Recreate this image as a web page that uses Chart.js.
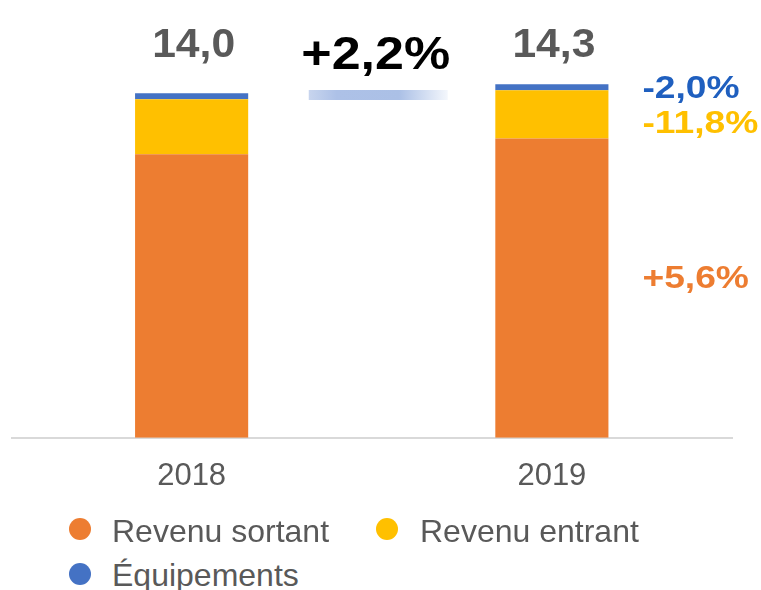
<!DOCTYPE html>
<html>
<head>
<meta charset="utf-8">
<script src="https://cdn.jsdelivr.net/npm/chart.js@4.4.0/dist/chart.umd.min.js"></script>
<style>
    body { margin: 0; background: #fff; font-family: "Liberation Sans", Arial, sans-serif; }
    #wrap { position: relative; width: 761px; height: 590px; overflow: hidden; }
    #box { position: absolute; left: 0; top: 0; width: 761px; height: 520px; }
    .dot { position: absolute; width: 22px; height: 22px; border-radius: 50%; }
    .lab { position: absolute; font-size: 32px; line-height: 32px; color: #595959; white-space: nowrap; }
</style>
</head>
<body>
<div id="wrap">
    <div id="box"><canvas id="chart"></canvas></div>
    <div id="legend"></div>
</div>
<script>
const years = ["2018", "2019"];
const revenuSortant = [11.52, 12.16];
const revenuEntrant = [2.24, 1.96];
const equipements = [0.24, 0.24];
const totals = ["14,0", "14,3"];
const growth = "+2,2%";
// evolution 2018 -> 2019, same order as the series
const changes = ["+5,6%", "-11,8%", "-2,0%"];
const seriesNames = ["Revenu sortant", "Revenu entrant", "Équipements"];
const colors = ["#ED7D31", "#FFC000", "#4472C4"];
const changeColors = ["#ED7D31", "#FFC000", "#1F5FBF"];

const FONT = '"Liberation Sans", Arial, sans-serif';

function boldText(ctx, s, x, y, size, color, sx, align) {
    ctx.save();
    ctx.font = `bold ${size}px ${FONT}`;
    ctx.fillStyle = color;
    ctx.textAlign = align;
    ctx.textBaseline = "alphabetic";
    ctx.translate(x, y);
    ctx.scale(sx, 1);
    ctx.fillText(s, 0, 0);
    ctx.restore();
}

const labelsPlugin = {
    id: "labels",
    afterDatasetsDraw(chart) {
        const ctx = chart.ctx;
        const area = chart.chartArea;
        const first = chart.getDatasetMeta(0).data;

        // totals above the bars
        first.forEach((bar, i) => {
            boldText(ctx, totals[i], bar.x + 2, area.top + 13, 41, "#595959", 1.04, "center");
        });

        // overall growth between the bars
        const mid = (first[0].x + first[1].x) / 2;
        boldText(ctx, growth, mid + 4, area.top + 25, 46, "#000000", 1.13, "center");
        const gx0 = mid - 63, gx1 = mid + 76;
        const grad = ctx.createLinearGradient(gx0, 0, gx1, 0);
        grad.addColorStop(0, "#c8d5ee");
        grad.addColorStop(0.2, "#adc1e7");
        grad.addColorStop(0.65, "#abc0e6");
        grad.addColorStop(1, "#f4f7fc");
        ctx.fillStyle = grad;
        ctx.fillRect(gx0, area.top + 46, gx1 - gx0, 10);

        // per-series change next to the 2019 bar
        const offsets = [-0.5, 19, 10.3];
        chart.data.datasets.forEach((ds, d) => {
            const el = chart.getDatasetMeta(d).data[1];
            const center = (el.y + el.base) / 2;
            const right = el.x + el.width / 2;
            boldText(ctx, changes[d], right + 34, center + offsets[d], 31, changeColors[d], 1.2, "left");
        });
    }
};

const datasets = [revenuSortant, revenuEntrant, equipements].map((values, i) => ({
    label: seriesNames[i],
    data: values,
    backgroundColor: colors[i],
    borderWidth: 0,
    barPercentage: 0.314,
    categoryPercentage: 1,
}));

new Chart(document.getElementById("chart").getContext("2d"), {
    type: "bar",
    data: { labels: years, datasets: datasets },
    options: {
        responsive: true,
        maintainAspectRatio: false,
        animation: false,
        layout: { padding: { left: 11.5, right: 29, top: 44, bottom: 5 } },
        plugins: {
            legend: { display: false },
            tooltip: { enabled: false },
        },
        scales: {
            x: {
                stacked: true,
                grid: { display: false, drawTicks: false },
                border: { display: true, color: "#d9d9d9", width: 2 },
                ticks: { color: "#595959", font: { size: 31, family: FONT }, padding: 20 },
            },
            y: {
                stacked: true,
                display: false,
                min: 0,
                max: 16,
            },
        },
    },
    plugins: [labelsPlugin],
});

// legend, laid out like the original (two items, then one)
const legendPos = [[69, 518, 112, 515], [376, 518, 420, 515], [69, 563, 112, 559]];
const legend = document.getElementById("legend");
seriesNames.forEach((name, i) => {
    const [dx, dy, tx, ty] = legendPos[i];
    legend.innerHTML += `<div class="dot" style="left:${dx}px;top:${dy}px;background:${colors[i]}"></div>` +
        `<div class="lab" style="left:${tx}px;top:${ty}px">${name}</div>`;
});
</script>
</body>
</html>
